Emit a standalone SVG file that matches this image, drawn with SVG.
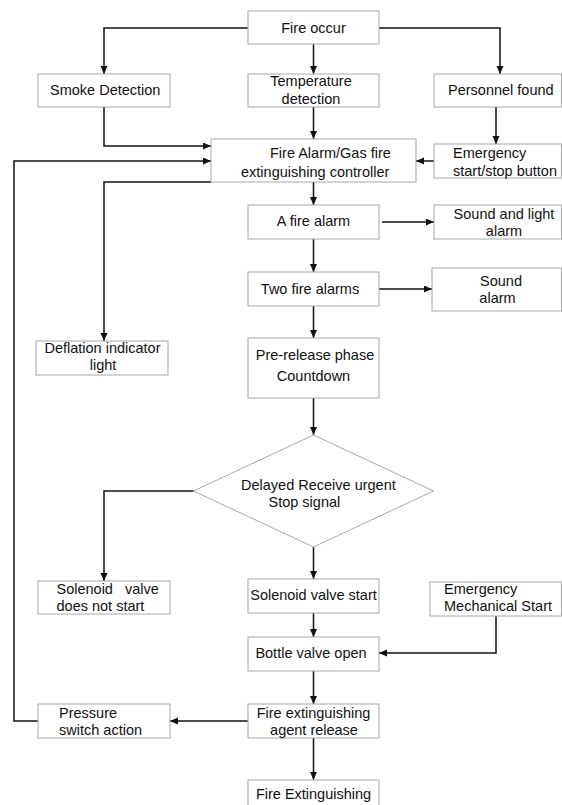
<svg xmlns="http://www.w3.org/2000/svg" width="562" height="805" viewBox="0 0 562 805">
<style>
.b{fill:#fff;stroke:#a8a8a8;stroke-width:1}
.t{font-family:"Liberation Sans",Arial,sans-serif;font-size:14.5px;fill:#111}
.m{text-anchor:middle}
.c{fill:none;stroke:#111;stroke-width:1.5}
</style>
<defs>
<marker id="a" markerUnits="userSpaceOnUse" markerWidth="9" markerHeight="8" refX="8" refY="3.5" orient="auto">
<path d="M0,0 L8,3.5 L0,7 z" fill="#111"/>
</marker>
</defs>
<rect width="562" height="805" fill="#fff"/>
<g id="connectors">
<path class="c" d="M248,28 H104 V74" marker-end="url(#a)"/>
<path class="c" d="M379,28 H500 V74" marker-end="url(#a)"/>
<path class="c" d="M313.5,44 V74" marker-end="url(#a)"/>
<path class="c" d="M313.5,107 V139" marker-end="url(#a)"/>
<path class="c" d="M104,107 V146 H211" marker-end="url(#a)"/>
<path class="c" d="M496,107 V144" marker-end="url(#a)"/>
<path class="c" d="M434,161 H416" marker-end="url(#a)"/>
<path class="c" d="M38,721 H14 V161 H211" marker-end="url(#a)"/>
<path class="c" d="M211,182 H104 V341" marker-end="url(#a)"/>
<path class="c" d="M313.5,182 V205" marker-end="url(#a)"/>
<path class="c" d="M382,222 H434" marker-end="url(#a)"/>
<path class="c" d="M313.5,239 V272" marker-end="url(#a)"/>
<path class="c" d="M379,289 H432" marker-end="url(#a)"/>
<path class="c" d="M313.5,306 V338" marker-end="url(#a)"/>
<path class="c" d="M313.5,398 V435" marker-end="url(#a)"/>
<path class="c" d="M193.5,491 H104 V581" marker-end="url(#a)"/>
<path class="c" d="M313.5,547 V579" marker-end="url(#a)"/>
<path class="c" d="M313.5,613 V637" marker-end="url(#a)"/>
<path class="c" d="M496,616 V653 H379" marker-end="url(#a)"/>
<path class="c" d="M313.5,671 V704" marker-end="url(#a)"/>
<path class="c" d="M248,721 H170" marker-end="url(#a)"/>
<path class="c" d="M313.5,738 V780" marker-end="url(#a)"/>
</g>
<g id="fire-occur"><rect class="b" x="248" y="11" width="131" height="33"/><text class="t m" x="313.5" y="33">Fire occur</text></g>
<g id="smoke"><rect class="b" x="38" y="74" width="132" height="33"/><text class="t" x="50" y="95">Smoke Detection</text></g>
<g id="temperature"><rect class="b" x="248" y="74" width="131" height="33"/><text class="t m" x="311" y="86">Temperature</text><text class="t m" x="311" y="104">detection</text></g>
<g id="personnel"><rect class="b" x="434" y="74" width="127.5" height="33"/><text class="t" x="448" y="95">Personnel found</text></g>
<g id="controller"><rect class="b" x="211" y="139" width="205" height="43"/><text class="t" x="270" y="158">Fire Alarm/Gas fire</text><text class="t" x="241" y="177">extinguishing controller</text></g>
<g id="emergency-button"><rect class="b" x="434" y="144" width="127.5" height="34"/><text class="t" x="453" y="158">Emergency</text><text class="t" x="453" y="176">start/stop button</text></g>
<g id="a-fire-alarm"><rect class="b" x="248" y="205" width="131" height="34"/><text class="t m" x="313.5" y="226">A fire alarm</text></g>
<g id="sound-light"><rect class="b" x="434" y="205" width="127.5" height="34"/><text class="t m" x="504" y="219">Sound and light</text><text class="t m" x="504" y="236">alarm</text></g>
<g id="two-fire-alarms"><rect class="b" x="248" y="272" width="131" height="34"/><text class="t m" x="310" y="294">Two fire alarms</text></g>
<g id="sound-alarm"><rect class="b" x="432" y="268" width="129.5" height="43"/><text class="t m" x="501" y="286">Sound</text><text class="t m" x="497.5" y="303">alarm</text></g>
<g id="deflation"><rect class="b" x="36" y="341" width="132" height="34"/><text class="t m" x="102.5" y="353">Deflation indicator</text><text class="t m" x="103" y="370">light</text></g>
<g id="pre-release"><rect class="b" x="248" y="338" width="131" height="60"/><text class="t m" x="315" y="360">Pre-release phase</text><text class="t m" x="313.5" y="381">Countdown</text></g>
<g id="decision"><path class="b" d="M313.5,435 L433.5,491 L313.5,547 L193.5,491 Z"/><text class="t" x="241" y="490">Delayed Receive urgent</text><text class="t" x="268.5" y="507">Stop signal</text></g>
<g id="solenoid-no"><rect class="b" x="38" y="581" width="132" height="33"/><text class="t" x="56.5" y="594" xml:space="preserve">Solenoid   valve</text><text class="t" x="56.5" y="611">does not start</text></g>
<g id="solenoid-start"><rect class="b" x="248" y="579" width="131" height="34"/><text class="t m" x="313.5" y="600">Solenoid valve start</text></g>
<g id="emergency-mech"><rect class="b" x="430" y="582" width="131.5" height="34"/><text class="t" x="444" y="594">Emergency</text><text class="t" x="444" y="611">Mechanical Start</text></g>
<g id="bottle"><rect class="b" x="248" y="637" width="131" height="34"/><text class="t m" x="311" y="658">Bottle valve open</text></g>
<g id="agent-release"><rect class="b" x="248" y="704" width="131" height="34"/><text class="t m" x="313.5" y="718">Fire extinguishing</text><text class="t m" x="314" y="735">agent release</text></g>
<g id="pressure"><rect class="b" x="38" y="704" width="132" height="34"/><text class="t" x="59" y="718">Pressure</text><text class="t" x="59" y="735">switch action</text></g>
<g id="fire-extinguishing"><rect class="b" x="248" y="780" width="131" height="40"/><text class="t m" x="313.5" y="799">Fire Extinguishing</text></g>
</svg>
